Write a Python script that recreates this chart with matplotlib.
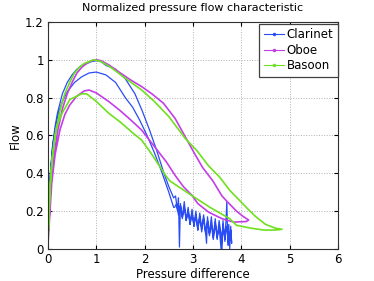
import matplotlib
matplotlib.use("Agg")
import matplotlib.pyplot as plt
from matplotlib.lines import Line2D

# ---- Data ----
# Clarinet: rising/upper branch, noisy tail out, noisy tail back, lower branch
clar_up_x = [0.0,0.03,0.06,0.1,0.15,0.2,0.3,0.4,0.5,0.6,0.7,0.8,0.9,1.0,1.1,1.2,1.4,1.6,1.8,1.95,2.1,2.25,2.4,2.5,2.6]
clar_up_y = [0.0,0.3,0.42,0.55,0.65,0.72,0.82,0.88,0.92,0.95,0.97,0.98,0.99,0.995,0.99,0.97,0.95,0.90,0.82,0.73,0.63,0.52,0.40,0.33,0.27]
clar_tail_x = [2.64,2.68,2.70,2.72,2.74,2.78,2.82,2.86,2.90,2.94,2.98,3.02,3.06,3.10,3.14,3.18,3.22,3.26,3.28,3.30,3.34,3.38,3.42,3.46,3.50,3.54,3.58,3.60,3.62,3.66,3.68,3.70,3.72,3.74,3.76,3.78,3.80]
clar_tail_y = [0.28,0.20,0.27,0.01,0.24,0.17,0.25,0.15,0.22,0.13,0.21,0.12,0.20,0.10,0.19,0.11,0.18,0.09,0.03,0.17,0.08,0.17,0.06,0.16,0.05,0.15,0.08,0.00,0.15,0.04,0.14,0.25,0.02,0.13,0.00,0.12,0.03]
clar_back_x = [3.78,3.74,3.70,3.66,3.62,3.58,3.54,3.50,3.46,3.42,3.38,3.34,3.30,3.26,3.22,3.18,3.14,3.10,3.06,3.02,2.98,2.94,2.90,2.86,2.82,2.78,2.74,2.70,2.66,2.62]
clar_back_y = [0.10,0.02,0.12,0.05,0.13,0.00,0.12,0.06,0.14,0.05,0.13,0.07,0.15,0.08,0.16,0.09,0.17,0.10,0.18,0.12,0.19,0.13,0.20,0.15,0.22,0.16,0.23,0.18,0.24,0.22]
clar_low_x = [2.6,2.5,2.35,2.2,2.05,1.9,1.75,1.6,1.4,1.2,1.0,0.85,0.7,0.55,0.4,0.3,0.2,0.1,0.05,0.0]
clar_low_y = [0.22,0.30,0.41,0.51,0.60,0.68,0.75,0.80,0.88,0.92,0.935,0.93,0.91,0.88,0.83,0.78,0.70,0.55,0.40,0.0]

# Oboe: upper branch then lower (return) branch
oboe_up_x = [0,0.05,0.1,0.2,0.3,0.4,0.5,0.6,0.7,0.8,0.9,1.0,1.1,1.26,1.5,1.7,1.94,2.15,2.39,2.63,2.84,3.05,3.2,3.41,3.6,3.69,3.9,4.02,4.15]
oboe_up_y = [0,0.3,0.45,0.62,0.74,0.82,0.88,0.93,0.96,0.98,0.995,1.0,0.995,0.973,0.93,0.895,0.858,0.82,0.77,0.69,0.593,0.496,0.43,0.36,0.28,0.255,0.20,0.175,0.153]
oboe_low_x = [4.15,4.1,3.84,3.6,3.32,3.1,2.98,2.8,2.63,2.45,2.29,2.1,1.94,1.7,1.5,1.26,1.0,0.85,0.75,0.59,0.45,0.35,0.25,0.15,0.08,0.02]
oboe_low_y = [0.153,0.145,0.142,0.16,0.195,0.24,0.283,0.33,0.389,0.46,0.513,0.575,0.628,0.685,0.73,0.779,0.825,0.84,0.835,0.806,0.76,0.71,0.63,0.50,0.35,0.1]

# Basoon: upper branch then lower (return) branch
bas_up_x = [0,0.04,0.08,0.15,0.25,0.35,0.45,0.55,0.65,0.75,0.85,0.95,1.1,1.3,1.56,1.94,2.2,2.5,2.84,3.08,3.32,3.55,3.76,3.95,4.1,4.3,4.5,4.7,4.84]
bas_up_y = [0,0.3,0.45,0.6,0.73,0.82,0.88,0.93,0.96,0.98,0.99,1.0,0.99,0.96,0.91,0.84,0.78,0.70,0.584,0.52,0.44,0.38,0.31,0.26,0.22,0.17,0.13,0.11,0.104]
bas_low_x = [4.84,4.7,4.46,4.2,3.9,3.76,3.35,2.93,2.52,2.43,2.15,1.94,1.77,1.5,1.26,1.0,0.8,0.7,0.455,0.3,0.18,0.1,0.05,0.0]
bas_low_y = [0.104,0.10,0.10,0.11,0.125,0.16,0.22,0.29,0.36,0.39,0.50,0.575,0.61,0.67,0.717,0.78,0.82,0.82,0.79,0.72,0.647,0.5,0.35,0.05]

series = ["Clarinet", "Oboe", "Basoon"]
colors = ["#2a4cf5", "#c43ee8", "#6fe01e"]

fig = plt.figure(figsize=(3.74, 2.81), dpi=100)
ax = fig.add_axes([0.128, 0.114, 0.776, 0.808])

def loop(*parts):
    xs, ys = [], []
    for i in range(0, len(parts), 2):
        xs += list(parts[i]); ys += list(parts[i+1])
    return xs, ys

cx, cy = loop(clar_up_x, clar_up_y, clar_tail_x, clar_tail_y, clar_back_x, clar_back_y, clar_low_x, clar_low_y)
ox, oy = loop(oboe_up_x, oboe_up_y, oboe_low_x, oboe_low_y)
gx, gy = loop(bas_up_x, bas_up_y, bas_low_x, bas_low_y)

widths = [0.9, 1.2, 1.2]
for (x, y), c, w in zip([(cx, cy), (ox, oy), (gx, gy)], colors, widths):
    ax.plot(x, y, color=c, lw=w, solid_joinstyle='round')

ax.set_xlim(0, 6)
ax.set_ylim(0, 1.2)
ax.set_xticks([0, 1, 2, 3, 4, 5, 6])
ax.set_yticks([0, 0.2, 0.4, 0.6, 0.8, 1.0, 1.2])
ax.set_yticklabels(["0", "0.2", "0.4", "0.6", "0.8", "1", "1.2"])
ax.grid(True, linestyle=':', color='#b0b0b0', lw=0.7)
ax.tick_params(direction='in', labelsize=8.5, length=3, top=True, right=True, pad=3)
for s in ax.spines.values():
    s.set_color('#303030'); s.set_linewidth(0.8)
ax.set_title("Normalized pressure flow characteristic", fontsize=8, pad=8)
ax.set_xlabel("Pressure difference", fontsize=8.5, labelpad=1)
ax.set_ylabel("Flow", fontsize=8.5, labelpad=2)

handles = [Line2D([], [], color=c, lw=0.8, marker='.', markersize=3) for c in colors]
leg = ax.legend(handles, series, loc='upper right', bbox_to_anchor=(1.0, 0.992), fontsize=8.5,
                fancybox=False, framealpha=1, edgecolor='#404040', handlelength=1.7,
                borderaxespad=0.0, labelspacing=0.2, borderpad=0.4, handletextpad=0.25)
leg.get_frame().set_linewidth(0.9)

fig.savefig("out.png", dpi=100)
